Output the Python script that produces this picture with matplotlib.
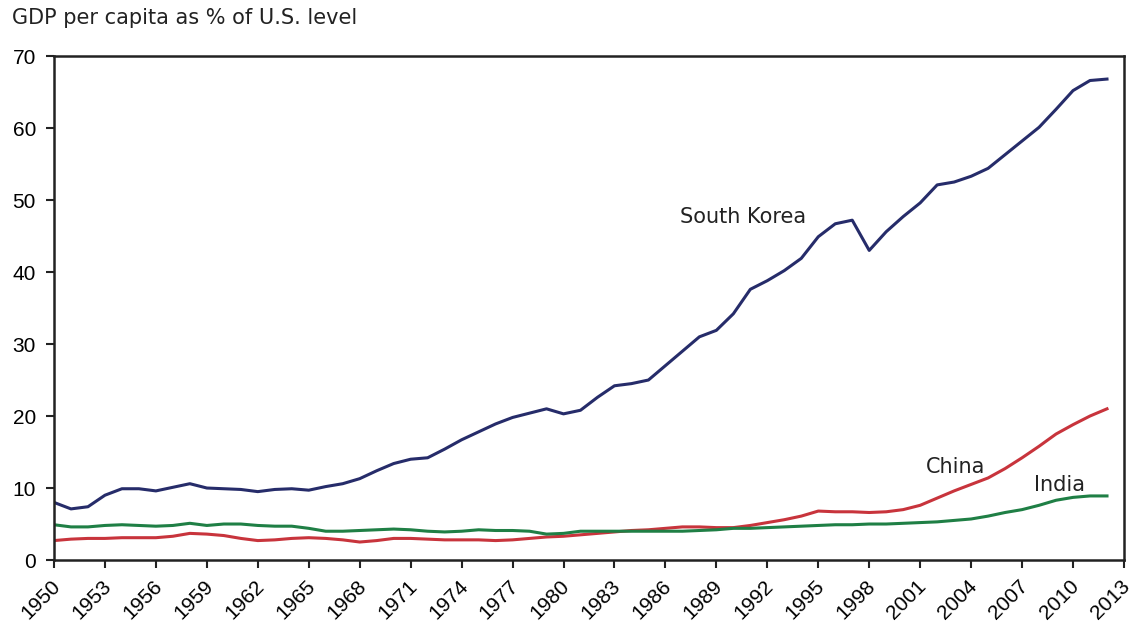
import matplotlib
matplotlib.use("Agg")
import matplotlib.pyplot as plt
import matplotlib.transforms as mtransforms
import numpy as np

years = np.arange(1950, 2013)

south_korea = [
    8.0, 7.1, 7.4, 9.0, 9.9, 9.9, 9.6, 10.1, 10.6, 10.0,
    9.9, 9.8, 9.5, 9.8, 9.9, 9.7, 10.2, 10.6, 11.3, 12.4,
    13.4, 14.0, 14.2, 15.4, 16.7, 17.8, 18.9, 19.8, 20.4, 21.0,
    20.3, 20.8, 22.6, 24.2, 24.5, 25.0, 27.0, 29.0, 31.0, 31.9,
    34.2, 37.6, 38.8, 40.2, 41.9, 44.9, 46.7, 47.2, 43.0, 45.6,
    47.7, 49.6, 52.1, 52.5, 53.3, 54.4, 56.3, 58.2, 60.1, 62.6,
    65.2, 66.6, 66.8,
]
china = [
    2.7, 2.9, 3.0, 3.0, 3.1, 3.1, 3.1, 3.3, 3.7, 3.6,
    3.4, 3.0, 2.7, 2.8, 3.0, 3.1, 3.0, 2.8, 2.5, 2.7,
    3.0, 3.0, 2.9, 2.8, 2.8, 2.8, 2.7, 2.8, 3.0, 3.2,
    3.3, 3.5, 3.7, 3.9, 4.1, 4.2, 4.4, 4.6, 4.6, 4.5,
    4.5, 4.8, 5.2, 5.6, 6.1, 6.8, 6.7, 6.7, 6.6, 6.7,
    7.0, 7.6, 8.6, 9.6, 10.5, 11.4, 12.7, 14.2, 15.8, 17.5,
    18.8, 20.0, 21.0,
]
india = [
    4.9, 4.6, 4.6, 4.8, 4.9, 4.8, 4.7, 4.8, 5.1, 4.8,
    5.0, 5.0, 4.8, 4.7, 4.7, 4.4, 4.0, 4.0, 4.1, 4.2,
    4.3, 4.2, 4.0, 3.9, 4.0, 4.2, 4.1, 4.1, 4.0, 3.6,
    3.7, 4.0, 4.0, 4.0, 4.0, 4.0, 4.0, 4.0, 4.1, 4.2,
    4.4, 4.4, 4.5, 4.6, 4.7, 4.8, 4.9, 4.9, 5.0, 5.0,
    5.1, 5.2, 5.3, 5.5, 5.7, 6.1, 6.6, 7.0, 7.6, 8.3,
    8.7, 8.9, 8.9,
]

x_ticks = np.arange(1950, 2014, 3)
y_ticks = np.arange(0, 71, 10)

plt.rcParams["font.family"] = ["Liberation Sans", "DejaVu Sans"]

fig = plt.figure(figsize=(11.44, 6.26), dpi=100)
ax = fig.add_axes([0.0472, 0.1054, 0.9353, 0.8051])

ax.plot(years, south_korea, color="#262c6a", lw=2.2)
ax.plot(years, china, color="#c8343c", lw=2.2)
ax.plot(years, india, color="#1f7f45", lw=2.2)

ax.set_xlim(1950, 2013)
ax.set_ylim(0, 70)
ax.set_xticks(x_ticks)
ax.set_yticks(y_ticks)
ax.tick_params(direction="out", length=6, width=1.5, labelsize=15, color="#222222")
ax.tick_params(axis="x", pad=6)
ax.tick_params(axis="y", pad=7)

# shift rotated year labels a bit to the right of their ticks
offset = mtransforms.ScaledTranslation(0.10, 0, fig.dpi_scale_trans)
for lab in ax.get_xticklabels():
    lab.set_rotation(45)
    lab.set_ha("right")
    lab.set_transform(lab.get_transform() + offset)

for sp in ax.spines.values():
    sp.set_linewidth(1.8)
    sp.set_color("#222222")

ax.text(1990.6, 47.6, "South Korea", fontsize=15, family="DejaVu Sans",
        ha="center", va="center", color="#222222")
ax.text(2003.1, 12.9, "China", fontsize=15, family="DejaVu Sans",
        ha="center", va="center", color="#222222")
ax.text(2009.2, 10.4, "India", fontsize=15, family="DejaVu Sans",
        ha="center", va="center", color="#222222")

fig.text(12 / 1144, 1 - 18 / 626, "GDP per capita as % of U.S. level",
         fontsize=15, family="DejaVu Sans", ha="left", va="center", color="#222222")

fig.savefig("out.png", dpi=100)
